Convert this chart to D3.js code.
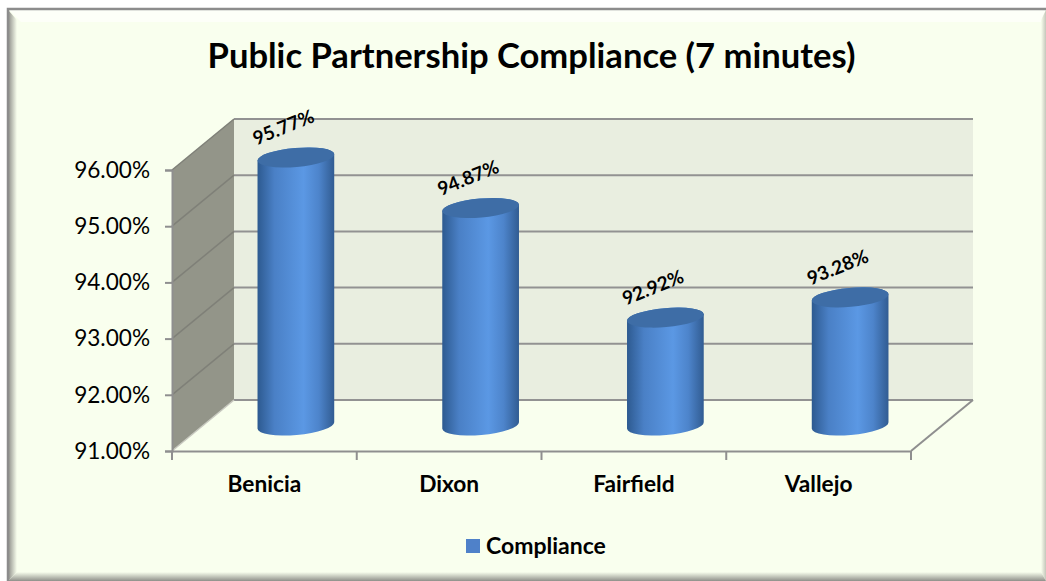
<!DOCTYPE html>
<html>
<head>
<meta charset="utf-8">
<script src="https://cdn.jsdelivr.net/npm/d3@7"></script>
<style>
    body { margin: 0; background: #fff; }
    text { font-family: Lato, "Open Sans", sans-serif; fill: #000; }
</style>
</head>
<body>
<div id="chart"></div>
<script>
const width = 1046,
    height = 581;

const chartTitle = "Public Partnership Compliance (7 minutes)";
const seriesName = "Compliance";
const categories = ["Benicia", "Dixon", "Fairfield", "Vallejo"];
const compliance = [95.77, 94.87, 92.92, 93.28];
const yTicks = [91, 92, 93, 94, 95, 96];

// front edge of the 3D box, the back wall sits depthX/depthY away from it
const plotLeft = 172, plotRight = 911, plotBottom = 451, plotTop = 170;
const depthX = 62, depthY = -51;
const radiusX = 38.5, radiusY = 9.5, tilt = 5;

const svg = d3.select('#chart').append('svg')
    .attr('width', width)
    .attr('height', height)
    .style('display', 'block');

const x = d3.scaleBand().domain(categories).range([plotLeft, plotRight]);
const y = d3.scaleLinear().domain([91, 96]).range([plotBottom, plotTop]);

const defs = svg.append('defs');

const barGradient = defs.append('linearGradient').attr('id', 'barFill');
[[0, "#2d5a90"], [0.22, "#4a80c6"], [0.6, "#5b98e4"], [0.8, "#4d84cb"], [1, "#315c92"]].forEach(s => {
    barGradient.append('stop').attr('offset', s[0]).attr('stop-color', s[1]);
});

const leftBevel = defs.append('linearGradient').attr('id', 'bevelLeft');
leftBevel.append('stop').attr('offset', 0).attr('stop-color', "#8d8d88");
leftBevel.append('stop').attr('offset', 1).attr('stop-color', "#f9ffee");

const bottomBevel = defs.append('linearGradient').attr('id', 'bevelBottom')
    .attr('x1', 0).attr('y1', 0).attr('x2', 0).attr('y2', 1);
bottomBevel.append('stop').attr('offset', 0).attr('stop-color', "#f9ffee");
bottomBevel.append('stop').attr('offset', 1).attr('stop-color', "#8f908a");

const rightBevel = defs.append('linearGradient').attr('id', 'bevelRight');
rightBevel.append('stop').attr('offset', 0).attr('stop-color', "#f9ffee");
rightBevel.append('stop').attr('offset', 1).attr('stop-color', "#c4c6ba");

// Frame, bevel runs off the right and bottom of the picture
svg.append('rect')
    .attr('x', 7).attr('y', 10)
    .attr('width', 1039).attr('height', 571)
    .attr('fill', "#f9ffee");
svg.append('path').attr('d', "M9,10H1046L1041,22H21Z").attr('fill', "#fdfff8");
svg.append('path').attr('d', "M8,10L17,20V572L8,581Z").attr('fill', "url(#bevelLeft)");
svg.append('path').attr('d', "M1046,10L1041,20V572L1046,581Z").attr('fill', "url(#bevelRight)");
svg.append('path').attr('d', "M8,581L17,572H1041L1046,581Z").attr('fill', "url(#bevelBottom)");
svg.append('path')
    .attr('d', "M1046,9H8V581")
    .attr('fill', "none")
    .attr('stroke', "#8c8c8c")
    .attr('stroke-width', 2.5);

// Walls
const line = d3.line();
svg.append('path')
    .attr('d', line([[plotLeft + depthX, y(96) + depthY], [plotRight + depthX, y(96) + depthY], [plotRight + depthX, y(91) + depthY], [plotLeft + depthX, y(91) + depthY]]) + "Z")
    .attr('fill', "#e9eee0");
svg.append('path')
    .attr('d', line([[plotLeft, y(96)], [plotLeft + depthX, y(96) + depthY], [plotLeft + depthX, y(91) + depthY], [plotLeft, y(91)]]) + "Z")
    .attr('fill', "#939589");

// Gridlines on both walls
svg.append('g')
    .selectAll('path')
    .data(yTicks)
    .enter()
    .append('path')
    .attr('d', d => line([[plotLeft + depthX, y(d) + depthY], [plotRight + depthX, y(d) + depthY]]))
    .attr('fill', "none")
    .attr('stroke', "#929292")
    .attr('stroke-width', 2);
svg.append('g')
    .selectAll('path')
    .data(yTicks)
    .enter()
    .append('path')
    .attr('d', d => line([[plotLeft, y(d)], [plotLeft + depthX, y(d) + depthY]]))
    .attr('fill', "none")
    .attr('stroke', d => d === 91 ? "#c9cac1" : "#7f8078")
    .attr('stroke-width', 1.5);

// floor edge on the right
svg.append('path')
    .attr('d', line([[plotRight, y(91)], [plotRight + depthX, y(91) + depthY]]))
    .attr('stroke', "#8f8f8f")
    .attr('stroke-width', 2);

// Axes
const yAxis = svg.append('g')
    .attr('transform', `translate(${plotLeft},0)`)
    .call(d3.axisLeft(y).tickValues(yTicks).tickSize(7).tickPadding(15).tickFormat(d => d3.format(".2f")(d) + "%"));
const xAxis = svg.append('g')
    .attr('transform', `translate(0,${plotBottom})`)
    .call(d3.axisBottom(x).tickValues([]).tickSizeOuter(0));

xAxis.selectAll('.tick-mark')
    .data(d3.range(categories.length + 1))
    .enter()
    .append('line')
    .attr('x1', d => plotLeft + d * x.step())
    .attr('x2', d => plotLeft + d * x.step())
    .attr('y1', 0)
    .attr('y2', 9)
    .attr('stroke', "#8f8f8f")
    .attr('stroke-width', 2);

xAxis.selectAll('.category')
    .data(categories)
    .enter()
    .append('text')
    .attr('x', d => x(d) + x.bandwidth() / 2)
    .attr('y', 41)
    .attr('text-anchor', "middle")
    .style('font-size', "22.7px")
    .style('font-weight', "bold")
    .style('fill', "#000")
    .text(d => d);

yAxis.selectAll('path.domain').attr('stroke', "#8f8f8f").attr('stroke-width', 2);
xAxis.selectAll('path.domain').attr('stroke', "#8f8f8f").attr('stroke-width', 2);
yAxis.selectAll('.tick line').attr('stroke', "#8f8f8f").attr('stroke-width', 2);
yAxis.selectAll('.tick text')
    .style('font-size', "22.6px")
    .style('fill', "#000");

// Cylinders
const rows = categories.map((c, i) => ({ name: c, value: compliance[i] }));
const rad = tilt * Math.PI / 180;
const edgeX = radiusX * Math.cos(rad), edgeY = radiusX * Math.sin(rad);
const barX = d => x(d.name) + x.bandwidth() / 2 + depthX / 2 + 0.5;
const barY = v => y(v) + depthY / 2;

function barBody(d) {
    const cx = barX(d), t = barY(d.value), b = barY(91);
    return `M${cx - edgeX},${t + edgeY}L${cx - edgeX},${b + edgeY}` +
        `A${radiusX},${radiusY} ${-tilt} 0 0 ${cx + edgeX},${b - edgeY}` +
        `L${cx + edgeX},${t - edgeY}` +
        `A${radiusX},${radiusY} ${-tilt} 0 0 ${cx - edgeX},${t + edgeY}Z`;
}

const bars = svg.append('g')
    .selectAll('g')
    .data(rows)
    .enter()
    .append('g');

bars.append('path')
    .attr('d', barBody)
    .attr('fill', "url(#barFill)");

bars.append('ellipse')
    .attr('rx', radiusX)
    .attr('ry', radiusY)
    .attr('transform', d => `translate(${barX(d)},${barY(d.value)}) rotate(${-tilt})`)
    .attr('fill', "#3e6da6");

bars.append('text')
    .attr('transform', d => `translate(${barX(d) - 10},${barY(d.value) - 24}) rotate(-22)`)
    .attr('text-anchor', "middle")
    .style('font-size', "19px")
    .style('font-weight', "bold")
    .text(d => d.value.toFixed(2) + "%");

// Title
svg.append('text')
    .attr('x', 531.5)
    .attr('y', 68)
    .attr('text-anchor', "middle")
    .style('font-size', "34.6px")
    .style('font-weight', "bold")
    .text(chartTitle);

// Legend
svg.append('rect')
    .attr('x', 466).attr('y', 539)
    .attr('width', 14).attr('height', 14)
    .attr('fill', "#4f81c9");
svg.append('text')
    .attr('x', 486)
    .attr('y', 554)
    .style('font-size', "23px")
    .style('font-weight', "bold")
    .text(seriesName);
</script>
</body>
</html>
